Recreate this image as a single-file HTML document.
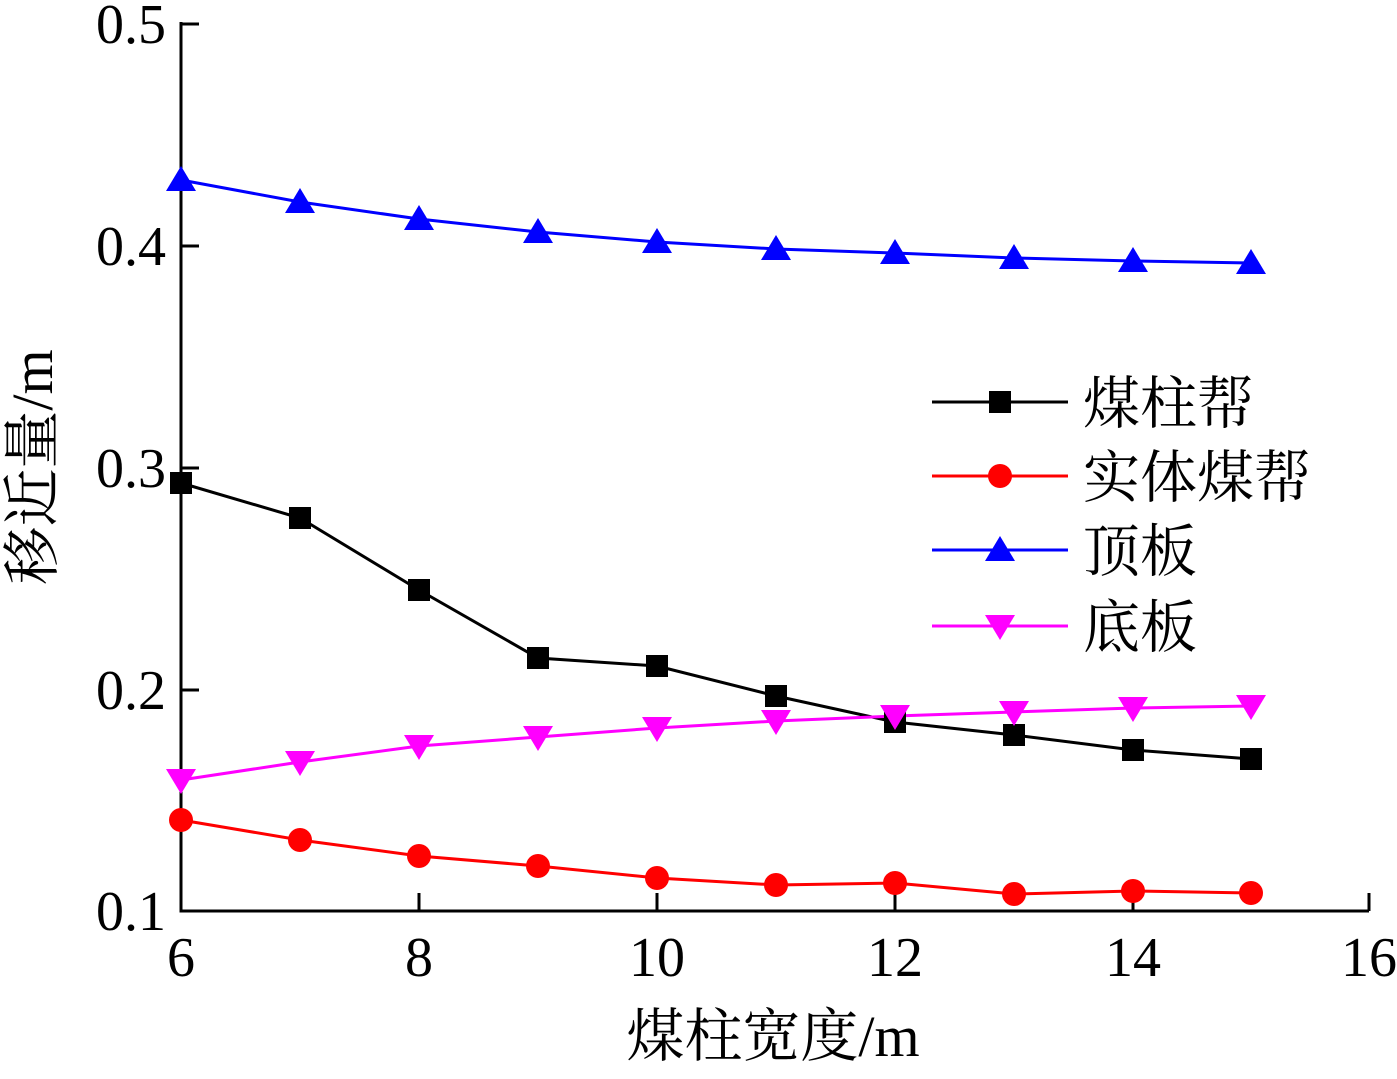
<!DOCTYPE html>
<html><head><meta charset="utf-8"><style>body{margin:0;background:#fff}</style></head><body>
<svg width="1397" height="1074" xmlns="http://www.w3.org/2000/svg" font-family="Liberation Serif, Noto Serif CJK SC, serif">
<rect width="1397" height="1074" fill="#fff"/>
<g stroke="#000" stroke-width="3" fill="none">
<path d="M181,22V911H1369"/>
<path d="M181,24h18M181,246h18M181,468h18M181,690h18"/>
<path d="M181,911v-18M419,911v-18M657,911v-18M895,911v-18M1133,911v-18M1369,911v-18"/>
</g>
<g font-size="56" text-anchor="end" fill="#000">
<text x="166" y="43">0.5</text><text x="166" y="265">0.4</text><text x="166" y="487">0.3</text><text x="166" y="709">0.2</text><text x="166" y="930">0.1</text>
</g>
<g font-size="56" text-anchor="middle" fill="#000">
<text x="181" y="976">6</text><text x="419" y="976">8</text><text x="657" y="976">10</text><text x="895" y="976">12</text><text x="1133" y="976">14</text><text x="1369" y="976">16</text>
</g>
<text x="773" y="1056" font-size="58" text-anchor="middle">煤柱宽度/m</text>
<text transform="translate(52,467) rotate(-90)" font-size="58" text-anchor="middle">移近量/m</text>
<polyline fill="none" stroke="#00f" stroke-width="3" points="181,180 300,202 419,219 538,232 657,242 776,249 895,253 1014,258 1133,261 1251,263"/>
<polyline fill="none" stroke="#000" stroke-width="3" points="181,483 300,518 419,590 538,658 657,666 776,696 895,722 1014,735 1133,750 1251,759"/>
<polyline fill="none" stroke="#f0f" stroke-width="3" points="181,780 300,762 419,746 538,737 657,728 776,721 895,716 1014,712 1133,708 1251,706"/>
<polyline fill="none" stroke="#f00" stroke-width="3" points="181,820 300,840 419,856 538,866 657,878 776,885 895,883 1014,894 1133,891 1251,893"/>
<g fill="#00f">
<path d="M181,166l15,25h-30z"/><path d="M300,188l15,25h-30z"/><path d="M419,205l15,25h-30z"/><path d="M538,218l15,25h-30z"/><path d="M657,228l15,25h-30z"/><path d="M776,235l15,25h-30z"/><path d="M895,239l15,25h-30z"/><path d="M1014,244l15,25h-30z"/><path d="M1133,247l15,25h-30z"/><path d="M1251,249l15,25h-30z"/>
</g>
<g fill="#000">
<rect x="170" y="472" width="22" height="22"/><rect x="289" y="507" width="22" height="22"/><rect x="408" y="579" width="22" height="22"/><rect x="527" y="647" width="22" height="22"/><rect x="646" y="655" width="22" height="22"/><rect x="765" y="685" width="22" height="22"/><rect x="884" y="711" width="22" height="22"/><rect x="1003" y="724" width="22" height="22"/><rect x="1122" y="739" width="22" height="22"/><rect x="1240" y="748" width="22" height="22"/>
</g>
<g fill="#f0f">
<path d="M181,794l15,-25h-30z"/><path d="M300,776l15,-25h-30z"/><path d="M419,760l15,-25h-30z"/><path d="M538,751l15,-25h-30z"/><path d="M657,742l15,-25h-30z"/><path d="M776,735l15,-25h-30z"/><path d="M895,730l15,-25h-30z"/><path d="M1014,726l15,-25h-30z"/><path d="M1133,722l15,-25h-30z"/><path d="M1251,720l15,-25h-30z"/>
</g>
<g fill="#f00">
<circle cx="181" cy="820" r="12"/><circle cx="300" cy="840" r="12"/><circle cx="419" cy="856" r="12"/><circle cx="538" cy="866" r="12"/><circle cx="657" cy="878" r="12"/><circle cx="776" cy="885" r="12"/><circle cx="895" cy="883" r="12"/><circle cx="1014" cy="894" r="12"/><circle cx="1133" cy="891" r="12"/><circle cx="1251" cy="893" r="12"/>
</g>
<g stroke-width="3">
<line x1="932" y1="402" x2="1068" y2="402" stroke="#000"/><rect x="989" y="391" width="22" height="22" fill="#000"/>
<line x1="932" y1="476" x2="1068" y2="476" stroke="#f00"/><circle cx="1000" cy="476" r="12" fill="#f00"/>
<line x1="932" y1="550" x2="1068" y2="550" stroke="#00f"/><path d="M1000,536l15,25h-30z" fill="#00f"/>
<line x1="932" y1="626" x2="1068" y2="626" stroke="#f0f"/><path d="M1000,640l15,-25h-30z" fill="#f0f"/>
</g>
<g font-size="57" fill="#000">
<text x="1083" y="423">煤柱帮</text><text x="1083" y="497">实体煤帮</text><text x="1083" y="571">顶板</text><text x="1083" y="647">底板</text>
</g>
</svg>
</body></html>
